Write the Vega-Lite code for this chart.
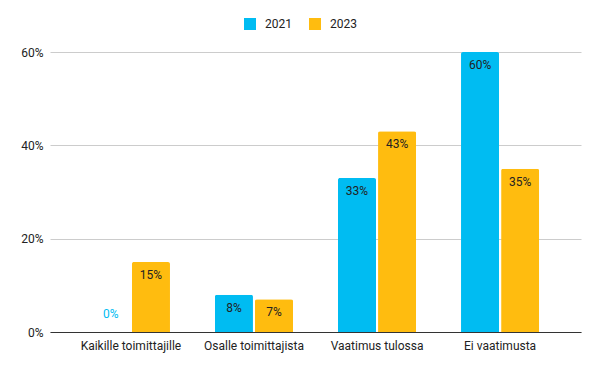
{
  "$schema": "https://vega.github.io/schema/vega-lite/v6.json",
  "width": 531,
  "height": 280,
  "autosize": "none",
  "padding": {"left": 50, "top": 52, "right": 19, "bottom": 39},
  "background": "white",
  "config": {
    "view": {"stroke": null},
    "font": "Roboto",
    "axis": {"labelFont": "Roboto", "labelFontSize": 12, "labelColor": "#222222", "titleFont": "Roboto"},
    "legend": {"labelFont": "Roboto", "labelFontSize": 12, "labelColor": "#222222"}
  },
  "data": {
    "values": [
      {"kategoria": "Kaikille toimittajille", "vuosi": "2021", "osuus": 0.0},
      {"kategoria": "Kaikille toimittajille", "vuosi": "2023", "osuus": 0.15},
      {"kategoria": "Osalle toimittajista", "vuosi": "2021", "osuus": 0.08},
      {"kategoria": "Osalle toimittajista", "vuosi": "2023", "osuus": 0.07},
      {"kategoria": "Vaatimus tulossa", "vuosi": "2021", "osuus": 0.33},
      {"kategoria": "Vaatimus tulossa", "vuosi": "2023", "osuus": 0.43},
      {"kategoria": "Ei vaatimusta", "vuosi": "2021", "osuus": 0.60},
      {"kategoria": "Ei vaatimusta", "vuosi": "2023", "osuus": 0.35}
    ]
  },
  "encoding": {
    "x": {
      "field": "kategoria",
      "type": "nominal",
      "sort": null,
      "scale": {"paddingInner": 0.365, "paddingOuter": 0.34},
      "axis": {
        "title": null,
        "labelAngle": 0,
        "ticks": false,
        "domainColor": "#333333",
        "domainWidth": 1,
        "labelPadding": 8,
        "grid": false
      }
    },
    "xOffset": {
      "field": "vuosi",
      "type": "nominal",
      "scale": {"paddingInner": 0.05, "paddingOuter": 0}
    },
    "y": {
      "field": "osuus",
      "type": "quantitative",
      "scale": {"domain": [0, 0.6], "nice": false},
      "axis": {
        "title": null,
        "format": ".0%",
        "values": [0, 0.2, 0.4, 0.6],
        "domain": false,
        "ticks": false,
        "gridColor": "#cccccc",
        "labelPadding": 7
      }
    }
  },
  "layer": [
    {
      "mark": {"type": "bar", "cornerRadiusTopLeft": 2, "cornerRadiusTopRight": 2},
      "encoding": {
        "color": {
          "field": "vuosi",
          "type": "nominal",
          "scale": {"domain": ["2021", "2023"], "range": ["#00BCF2", "#FFBC0F"]},
          "legend": {
            "title": null,
            "orient": "none",
            "direction": "horizontal",
            "legendX": 194,
            "legendY": -34,
            "symbolType": "square",
            "symbolSize": 144,
            "symbolStrokeWidth": 0,
            "labelOffset": 9,
            "columnPadding": 17
          }
        }
      }
    },
    {
      "transform": [{"filter": "datum.osuus > 0"}],
      "mark": {"type": "text", "baseline": "middle", "dy": 13, "fontSize": 12, "color": "#222222"},
      "encoding": {
        "text": {"field": "osuus", "type": "quantitative", "format": ".0%"}
      }
    },
    {
      "transform": [{"filter": "datum.osuus == 0"}],
      "mark": {"type": "text", "baseline": "middle", "dy": -18, "fontSize": 12, "color": "#00BCF2"},
      "encoding": {
        "text": {"field": "osuus", "type": "quantitative", "format": ".0%"}
      }
    }
  ]
}
